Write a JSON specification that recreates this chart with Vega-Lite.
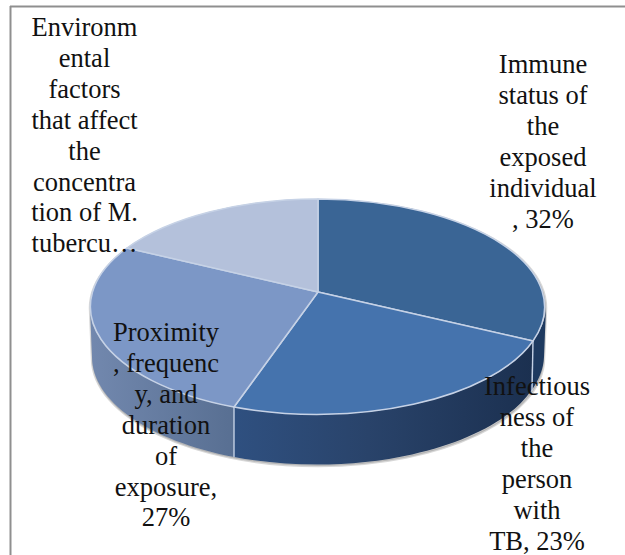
{
  "$schema": "https://vega.github.io/schema/vega-lite/v6.json",
  "width": 625,
  "height": 555,
  "padding": 0,
  "autosize": {"type": "none"},
  "background": "#ffffff",
  "config": {"view": {"stroke": null}},
  "data": {"values": [
    {"part": "Immune status of the exposed individual", "value": 32, "label": "Immune\nstatus of\nthe\nexposed\nindividual\n, 32%"},
    {"part": "Infectiousness of the person with TB", "value": 23, "label": "Infectious\nness of\nthe\nperson\nwith\nTB, 23%"},
    {"part": "Proximity, frequency, and duration of exposure", "value": 27, "label": "Proximity\n, frequenc\ny, and\nduration\nof\nexposure,\n27%"},
    {"part": "Environmental factors", "value": 18, "label": "Environm\nental\nfactors\nthat affect\nthe\nconcentra\ntion of M.\ntubercu…"}
  ]},
  "resolve": {"scale": {"x": "independent", "y": "independent", "color": "independent", "shape": "independent"}},
  "layer": [
    {
      "transform": [{"filter": "datum.value === 32"}],
      "mark": {"type": "rule", "color": "#8f8f8f", "strokeWidth": 2},
      "encoding": {
        "x": {"datum": 10.5, "type": "quantitative", "scale": {"domain": [0, 625], "nice": false, "zero": false}, "axis": null},
        "y": {"datum": 6, "type": "quantitative", "scale": {"domain": [555, 0], "nice": false, "zero": false}, "axis": null},
        "y2": {"datum": 555}
      }
    },
    {
      "transform": [{"filter": "datum.value === 32"}],
      "mark": {"type": "rule", "color": "#8f8f8f", "strokeWidth": 2},
      "encoding": {
        "x": {"datum": 10, "type": "quantitative", "scale": {"domain": [0, 625], "nice": false, "zero": false}, "axis": null},
        "x2": {"datum": 625},
        "y": {"datum": 6.5, "type": "quantitative", "scale": {"domain": [555, 0], "nice": false, "zero": false}, "axis": null}
      }
    },
    {
      "transform": [{"filter": "datum.value === 32"}],
      "mark": {"type": "point", "filled": true, "opacity": 1, "size": 4, "fill": "#9a9a9a", "fillOpacity": 0.55, "stroke": "#9a9a9a", "strokeOpacity": 0.4, "strokeWidth": 2.5,
        "shape": "M-228,15 A228 108 0 0 1 228,15 L226,65 A226 108 0 0 1 -226,65 Z"},
      "encoding": {
        "x": {"datum": 318, "type": "quantitative", "scale": {"domain": [0, 625], "nice": false, "zero": false}, "axis": null},
        "y": {"datum": 293, "type": "quantitative", "scale": {"domain": [555, 0], "nice": false, "zero": false}, "axis": null}
      }
    },
    {
      "transform": [{"filter": "datum.value === 27"}],
      "mark": {"type": "point", "filled": true, "opacity": 1, "size": 4,
        "fill": {"gradient": "linear", "x1": 0, "y1": 0, "x2": 1, "y2": 0, "stops": [{"offset": 0, "color": "#7288AE"}, {"offset": 1, "color": "#586F92"}]},
        "shape": "M-228,15 A228 108 0 0 0 -84,115 L-84,165 A226 108 0 0 1 -226,65 Z"},
      "encoding": {
        "x": {"datum": 318, "type": "quantitative", "scale": {"domain": [0, 625], "nice": false, "zero": false}, "axis": null},
        "y": {"datum": 292, "type": "quantitative", "scale": {"domain": [555, 0], "nice": false, "zero": false}, "axis": null}
      }
    },
    {
      "transform": [{"filter": "datum.value === 23"}],
      "mark": {"type": "point", "filled": true, "opacity": 1, "size": 4,
        "fill": {"gradient": "linear", "x1": 0, "y1": 0, "x2": 1, "y2": 0, "stops": [{"offset": 0, "color": "#2F5080"}, {"offset": 0.45, "color": "#29436A"}, {"offset": 1, "color": "#1B3050"}]},
        "shape": "M-84,115 A228 108 0 0 0 215,49 L213,99 A226 108 0 0 1 -84,165 Z"},
      "encoding": {
        "x": {"datum": 318, "type": "quantitative", "scale": {"domain": [0, 625], "nice": false, "zero": false}, "axis": null},
        "y": {"datum": 292, "type": "quantitative", "scale": {"domain": [555, 0], "nice": false, "zero": false}, "axis": null}
      }
    },
    {
      "transform": [{"filter": "datum.value === 32"}],
      "mark": {"type": "point", "filled": true, "opacity": 1, "size": 4, "fill": "#1E3A60",
        "shape": "M215,49 A228 108 0 0 0 228,15 L226,65 A226 108 0 0 1 213,99 Z"},
      "encoding": {
        "x": {"datum": 318, "type": "quantitative", "scale": {"domain": [0, 625], "nice": false, "zero": false}, "axis": null},
        "y": {"datum": 292, "type": "quantitative", "scale": {"domain": [555, 0], "nice": false, "zero": false}, "axis": null}
      }
    },
    {
      "transform": [{"filter": "datum.value === 27 || datum.value === 23"}],
      "mark": {"type": "point", "filled": true, "opacity": 1, "size": 4, "fill": null, "fillOpacity": 0, "stroke": "#C3D0E4", "strokeWidth": 1.4},
      "encoding": {
        "x": {"datum": 318, "type": "quantitative", "scale": {"domain": [0, 625], "nice": false, "zero": false}, "axis": null},
        "y": {"datum": 292, "type": "quantitative", "scale": {"domain": [555, 0], "nice": false, "zero": false}, "axis": null},
        "shape": {"field": "part", "type": "nominal", "legend": null, "scale": {
          "domain": ["Infectiousness of the person with TB", "Proximity, frequency, and duration of exposure"],
          "range": ["M215,49 L214,99", "M-84,115 L-84,165"]}}
      }
    },
    {
      "mark": {"type": "point", "filled": true, "opacity": 1, "size": 4, "stroke": "#C6D2E6", "strokeWidth": 1.5, "strokeJoin": "round"},
      "encoding": {
        "x": {"datum": 318, "type": "quantitative", "scale": {"domain": [0, 625], "nice": false, "zero": false}, "axis": null},
        "y": {"datum": 292, "type": "quantitative", "scale": {"domain": [555, 0], "nice": false, "zero": false}, "axis": null},
        "shape": {"field": "part", "type": "nominal", "legend": null, "scale": {
          "domain": ["Immune status of the exposed individual", "Infectiousness of the person with TB", "Proximity, frequency, and duration of exposure", "Environmental factors"],
          "range": [
            "M0,0 L0,-93 A228 108 0 0 1 215,49 Z",
            "M0,0 L215,49 A228 108 0 0 1 -84,115 Z",
            "M0,0 L-84,115 A228 108 0 0 1 -191,-44 Z",
            "M0,0 L-191,-44 A228 108 0 0 1 0,-93 Z"
          ]}},
        "color": {"field": "part", "type": "nominal", "legend": null, "scale": {
          "domain": ["Immune status of the exposed individual", "Infectiousness of the person with TB", "Proximity, frequency, and duration of exposure", "Environmental factors"],
          "range": ["#3A6595", "#4573AD", "#7C97C6", "#B4C1DB"]}}
      }
    },
    {
      "mark": {"type": "text", "font": "Liberation Serif", "fontSize": 26.5, "lineHeight": 30.9, "lineBreak": "\n", "align": "center", "baseline": "middle", "color": "#111111"},
      "encoding": {
        "text": {"field": "label", "type": "nominal"},
        "x": {"field": "value", "type": "quantitative", "axis": null, "scale": {"domain": [18, 23, 27, 32], "range": [84.5, 537, 166, 543], "nice": false, "zero": false}},
        "y": {"field": "value", "type": "quantitative", "axis": null, "scale": {"domain": [18, 23, 27, 32], "range": [28, 387, 333, 65], "nice": false, "zero": false}}
      }
    }
  ]
}
